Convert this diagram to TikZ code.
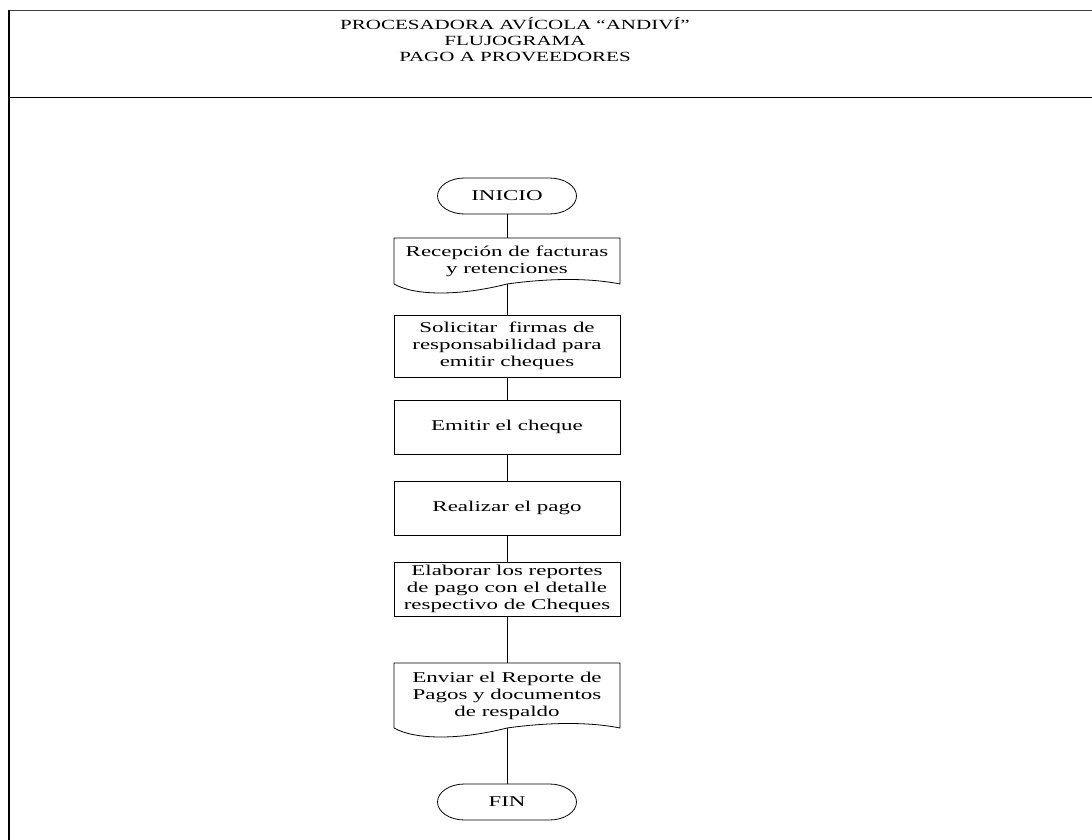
\documentclass[tikz,border=0pt]{standalone}
\usepackage{fontspec}
\setmainfont{Liberation Serif}
\newfontfamily\boxfont[FakeStretch=1.53]{Liberation Serif}
\newfontfamily\headfont[FakeStretch=1.5]{Liberation Serif}
% outline of a flowchart "document" symbol around a node
\newcommand\docoutline[1]{%
  \draw[shape line] (#1.north west) -- (#1.north east) -- (#1.south east)
    .. controls +(-30,6) and +(43,6) .. (#1.south)
    .. controls +(-47,-12) and +(21,-12) .. (#1.south west) -- cycle;}
% outline of a terminal (start/end) symbol around a node
\newcommand\termoutline[1]{%
  \draw[shape line] ([xshift=27pt]#1.north west) -- ([xshift=-27pt]#1.north east)
    arc[start angle=90, end angle=-90, x radius=27pt, y radius=18pt]
    -- ([xshift=27pt]#1.south west)
    arc[start angle=270, end angle=90, x radius=27pt, y radius=18pt] -- cycle;}
\begin{document}
\begin{tikzpicture}[x=1pt, y=1pt,
  every node/.style={inner sep=0pt, outer sep=0pt},
  shape line/.style={line width=0.8pt},
  boxtext/.style={align=center, font=\boxfont\fontsize{15}{17}\selectfont},
  proc/.style={boxtext, draw, shape line, minimum width=226pt},
  docbox/.style={boxtext, minimum width=226pt},
  term/.style={boxtext, minimum width=139pt, minimum height=36pt},
  link/.style={line width=0.8pt},
  frame/.style={line width=1.4pt}]
\useasboundingbox (0,0) rectangle (1092,-840);

% page frame and header band
\draw[frame, black!75] (9,-10.5) -- (1092,-10.5);
\draw[frame] (9,-840) -- (9,-10.5);
\draw[frame] (9,-97.5) -- (1092,-97.5);
\node[align=center, font=\headfont\fontsize{14}{16}\selectfont] (head) at (515,-40)
  {PROCESADORA AVÍCOLA “ANDIVÍ”\\FLUJOGRAMA\\PAGO A PROVEEDORES};

% flowchart
\node[term] (ini) at (507,-196) {INICIO};
\node[docbox, minimum height=46pt] (d1) at (507,-261) {Recepción de facturas\\y retenciones};
\node[proc, minimum height=62pt] (sol) at (507,-346) {Solicitar\ \ firmas de\\responsabilidad para\\emitir cheques};
\node[proc, minimum height=54pt] (emi) at (507,-427) {Emitir el cheque};
\node[proc, minimum height=54pt] (rea) at (507,-508) {Realizar el pago};
\node[proc, minimum height=54pt] (ela) at (507,-589) {Elaborar los reportes\\de pago con el detalle\\respectivo de Cheques};
\node[docbox, minimum height=65pt] (d2) at (507,-695.5) {Enviar el Reporte de\\Pagos y documentos\\de respaldo};
\node[term] (fin) at (507,-802) {FIN};

\termoutline{ini}
\termoutline{fin}
\docoutline{d1}
\docoutline{d2}

\draw[link] (ini) -- (d1);
\draw[link] (d1) -- (sol);
\draw[link] (sol) -- (emi);
\draw[link] (emi) -- (rea);
\draw[link] (rea) -- (ela);
\draw[link] (ela) -- (d2);
\draw[link] (d2) -- (fin);
\end{tikzpicture}
\end{document}
